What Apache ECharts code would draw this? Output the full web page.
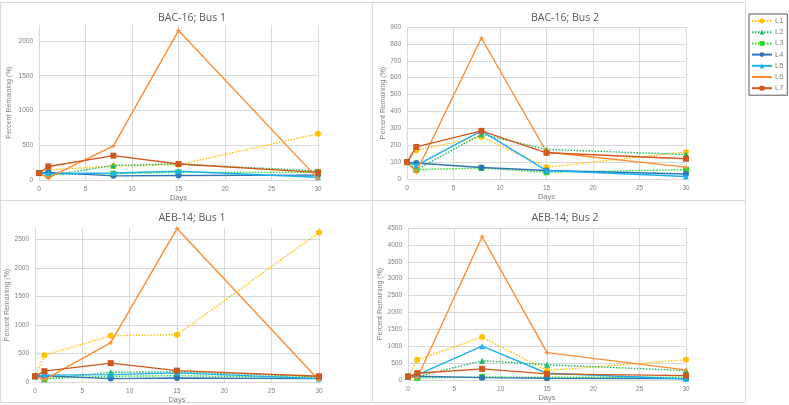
<!DOCTYPE html>
<html><head><meta charset="utf-8">
<script src="https://cdn.jsdelivr.net/npm/echarts@6/dist/echarts.min.js"></script>
<style>html,body{margin:0;padding:0;background:#fff}#c{width:789px;height:405px}</style>
</head><body><div id="c"></div>
<script>
const days = [0, 1, 8, 15, 30];
const seriesNames = ['L1','L2','L3','L4','L5','L6','L7'];
const panelTitles = ['BAC-16; Bus 1','BAC-16; Bus 2','AEB-14; Bus 1','AEB-14; Bus 2'];
const yMax = [2230, 900, 2700, 4500];
const yInterval = [500, 100, 500, 500];

// BAC-16; Bus 1
const bac1_L1 = [100, 145, 200, 220, 665];
const bac1_L2 = [100, 60, 210, 230, 130];
const bac1_L3 = [100, 80, 90, 110, 110];
const bac1_L4 = [100, 110, 60, 65, 70];
const bac1_L5 = [100, 90, 100, 125, 40];
const bac1_L6 = [100, 30, 490, 2150, 20];
const bac1_L7 = [100, 195, 350, 230, 110];
// BAC-16; Bus 2
const bac2_L1 = [100, 170, 250, 70, 160];
const bac2_L2 = [100, 55, 265, 175, 145];
const bac2_L3 = [100, 55, 65, 40, 55];
const bac2_L4 = [100, 95, 68, 50, 30];
const bac2_L5 = [100, 80, 285, 50, 15];
const bac2_L6 = [100, 40, 835, 160, 70];
const bac2_L7 = [100, 190, 285, 155, 120];
// AEB-14; Bus 1
const aeb1_L1 = [100, 470, 810, 830, 2620];
const aeb1_L2 = [100, 50, 170, 180, 90];
const aeb1_L3 = [100, 60, 100, 110, 80];
const aeb1_L4 = [100, 110, 60, 70, 60];
const aeb1_L5 = [100, 120, 130, 160, 60];
const aeb1_L6 = [100, 40, 690, 2690, 30];
const aeb1_L7 = [100, 190, 330, 200, 100];
// AEB-14; Bus 2
const aeb2_L1 = [100, 600, 1270, 280, 600];
const aeb2_L2 = [100, 100, 570, 450, 280];
const aeb2_L3 = [100, 60, 90, 80, 80];
const aeb2_L4 = [100, 110, 70, 50, 40];
const aeb2_L5 = [100, 150, 1000, 200, 30];
const aeb2_L6 = [100, 60, 4240, 810, 300];
const aeb2_L7 = [100, 200, 330, 180, 130];

const panels = [
  [bac1_L1,bac1_L2,bac1_L3,bac1_L4,bac1_L5,bac1_L6,bac1_L7],
  [bac2_L1,bac2_L2,bac2_L3,bac2_L4,bac2_L5,bac2_L6,bac2_L7],
  [aeb1_L1,aeb1_L2,aeb1_L3,aeb1_L4,aeb1_L5,aeb1_L6,aeb1_L7],
  [aeb2_L1,aeb2_L2,aeb2_L3,aeb2_L4,aeb2_L5,aeb2_L6,aeb2_L7]
];

const colors = ['#FFC000','#1DB863','#22DD22','#2E75B6','#1DB0EE','#FF8C33','#D0581A'];
const dashed = [true,true,true,false,false,false,false];
const star = 'path://M0,-10 L2.5,-2.5 L10,0 L2.5,2.5 L0,10 L-2.5,2.5 L-10,0 L-2.5,-2.5 Z';
const symbols = ['circle','triangle','rect','circle','triangle',star,'rect'];
const symSizes = [6,6,6,6,6,6,6];

const grids = [
  {left:39, top:25, width:279, height:155},
  {left:407, top:27, width:279, height:152},
  {left:35, top:228, width:284, height:154},
  {left:408, top:228, width:278, height:152}
];
const titlePos = [[187,8],[560,8],[187,208],[560,208]];
const nameGaps = [26, 20, 22, 23];
const labelColor = '#7F7F7F';

const option = {
  animation:false,
  color: colors,
  title: panelTitles.map((t,i)=>({text:t, left:titlePos[i][0], top:titlePos[i][1], textAlign:'center',
    textStyle:{fontSize:10.5, fontWeight:'normal', color:'#595959', fontFamily:'Open Sans'}})),
  legend: {
    data: seriesNames, orient:'vertical', left:749, top:14, itemWidth:20, itemHeight:6, itemGap:3.2,
    padding:[3,4,3,2], borderColor:'#595959', borderWidth:1,
    textStyle:{fontSize:7.5, color:labelColor, padding:[0,0,0,-2]}
  },
  grid: grids,
  graphic: [
    {type:'rect', shape:{x:0.5,y:2.5,width:372,height:198}, style:{fill:'none',stroke:'#D9D9D9',lineWidth:1}, silent:true},
    {type:'rect', shape:{x:372.5,y:2.5,width:373,height:198}, style:{fill:'none',stroke:'#D9D9D9',lineWidth:1}, silent:true},
    {type:'rect', shape:{x:0.5,y:200.5,width:372,height:202}, style:{fill:'none',stroke:'#D9D9D9',lineWidth:1}, silent:true},
    {type:'rect', shape:{x:372.5,y:200.5,width:373,height:202}, style:{fill:'none',stroke:'#D9D9D9',lineWidth:1}, silent:true}
  ],
  xAxis: grids.map((g,i)=>({type:'value', gridIndex:i, min:0, max:30, interval:5,
    name:'Days', nameLocation:'middle', nameGap:14, nameTextStyle:{fontSize:7.5,color:labelColor},
    axisLine:{show:true, lineStyle:{color:'#D9D9D9'}}, axisTick:{show:false},
    axisLabel:{fontSize:6.5, color:labelColor, margin:6, formatter: v => String(v)},
    splitLine:{show:true, lineStyle:{color:'#D9D9D9', width:1}}})),
  yAxis: grids.map((g,i)=>({type:'value', gridIndex:i, min:0, max:yMax[i], interval:yInterval[i],
    name:'Percent Remaining (%)', nameLocation:'middle', nameGap:nameGaps[i], nameRotate:90,
    nameTextStyle:{fontSize:7,color:labelColor},
    axisLine:{show:false}, axisTick:{show:false},
    axisLabel:{fontSize:6.5, color:labelColor, margin:6, showMaxLabel: yMax[i] % yInterval[i] === 0, formatter: v => String(v)},
    splitLine:{show:true, showMaxLine: yMax[i] % yInterval[i] === 0, lineStyle:{color:'#D9D9D9', width:1}}})),
  series: []
};

panels.forEach((vals, p)=>{
  vals.forEach((arr, k)=>{
    option.series.push({
      name: seriesNames[k], type:'line', xAxisIndex:p, yAxisIndex:p,
      data: days.map((d,j)=>[d, arr[j]]),
      symbol: symbols[k], symbolSize: symSizes[k], showSymbol:true,
      lineStyle:{width: 1.4, type: dashed[k]?[1.5,1.5]:'solid', color: colors[k]},
      itemStyle:{color: colors[k]},
      z: 10 + k
    });
  });
});

const chart = echarts.init(document.getElementById('c'), null, {renderer:'canvas'});
chart.setOption(option);
</script></body></html>
